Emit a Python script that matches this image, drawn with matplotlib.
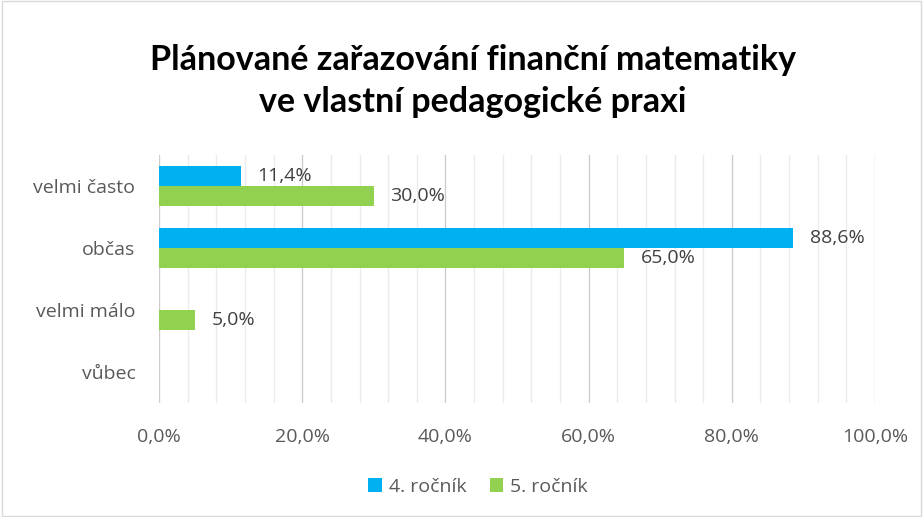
import matplotlib.pyplot as plt
import numpy as np
from matplotlib.patches import Rectangle

categories = ['velmi často', 'občas', 'velmi málo', 'vůbec']
series_names = ['4. ročník', '5. ročník']
rocnik4 = [11.4, 88.6, 0.0, 0.0]
rocnik5 = [30.0, 65.0, 5.0, 0.0]
xticks = [0, 20, 40, 60, 80, 100]

plt.rcParams['font.family'] = ['Open Sans', 'DejaVu Sans']

fig = plt.figure(figsize=(9.23, 5.17), dpi=100)
fig.patches.append(Rectangle((0.002, 0.002), 0.996, 0.996, transform=fig.transFigure,
                             fill=False, edgecolor='#d9d9d9', linewidth=1))
ax = fig.add_axes([0.1723, 0.2205, 0.7757, 0.4797])

y = np.arange(len(categories))
h = 0.33
bars4 = ax.barh(y - h / 2, rocnik4, height=h, color='#00B0F0', label=series_names[0], zorder=3)
bars5 = ax.barh(y + h / 2, rocnik5, height=h, color='#92D050', label=series_names[1], zorder=3)

# value labels, skip zeros
for bars, vals in [(bars4, rocnik4), (bars5, rocnik5)]:
    for b, v in zip(bars, vals):
        if v == 0:
            continue
        ax.annotate(f'{v:.1f}%'.replace('.', ','), (v, b.get_y() + b.get_height() / 2),
                    xytext=(12, 0), textcoords='offset points', ha='left', va='center',
                    fontsize=14, color='#404040')

ax.set_xlim(0, 100)
ax.set_ylim(len(categories) - 0.5, -0.5)
ax.set_yticks(y)
ax.set_yticklabels(categories)
ax.set_xticks(xticks)
ax.set_xticklabels([f'{t:.1f}%'.replace('.', ',') for t in xticks])
ax.set_xticks(np.arange(0, 101, 4), minor=True)
ax.grid(axis='x', which='major', color='#cccccc', linewidth=1, zorder=0)
ax.grid(axis='x', which='minor', color='#ebebeb', linewidth=1, zorder=0)
for s in ax.spines.values():
    s.set_visible(False)
ax.tick_params(axis='both', which='both', length=0, labelsize=14, colors='#595959')
ax.tick_params(axis='x', pad=18)
ax.tick_params(axis='y', pad=17)

fig.text(0.512, 0.843, 'Plánované zařazování finanční matematiky\nve vlastní pedagogické praxi',
         ha='center', va='center', fontsize=24.5, fontweight='bold', color='#000000',
         family=['Lato', 'DejaVu Sans'], linespacing=1.4)

fig.legend(loc='center', bbox_to_anchor=(0.518, 0.058), ncol=2, frameon=False,
           fontsize=14, labelcolor='#595959', handlelength=0.7, handleheight=0.7,
           handletextpad=0.35, columnspacing=1.2)

fig.savefig('out.png', dpi=100)
